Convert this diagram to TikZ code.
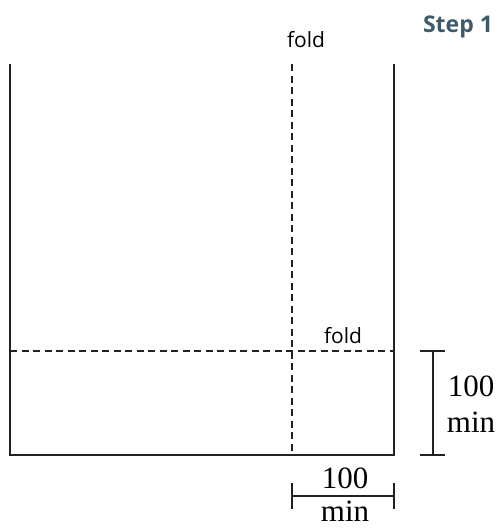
\documentclass[tikz,border=0pt]{standalone}
\usepackage{fontspec}
\setmainfont{Liberation Serif}
\newfontfamily\labelfont{Open Sans}
\definecolor{stepcol}{HTML}{3F5B6B}
\definecolor{linecol}{HTML}{222222}
\tikzset{
  solidline/.style={draw=linecol, line width=1.3pt},
  foldline/.style={draw=linecol, line width=1.2pt, dash pattern=on 7pt off 4.5pt},
  foldlabel/.style={font=\labelfont\fontsize{21}{24}\selectfont, text=black, inner sep=0pt, anchor=base},
  dimlabel/.style={font=\fontsize{31}{34}\selectfont, text=black, inner sep=0pt, anchor=base},
  steplabel/.style={font=\labelfont\bfseries\fontsize{23}{26}\selectfont, text=stepcol, inner sep=0pt, anchor=base}
}
\begin{document}
\begin{tikzpicture}[x=1pt,y=-1pt]
\useasboundingbox (0,0) rectangle (499,530);
% sheet outline
\coordinate (tl) at (10,64);
\coordinate (bl) at (10,455);
\coordinate (br) at (394,455);
\coordinate (tr) at (394,64);
\draw[solidline] (tl) -- (bl) -- (br) -- (tr);
% fold lines
\coordinate (vt) at (292,64);
\coordinate (vb) at (292,455);
\coordinate (hl) at (10,351);
\coordinate (hr) at (394,351);
\draw[foldline] (vt) -- (vb);
\draw[foldline] (hl) -- (hr);
% labels
\node[foldlabel] (fold1) at (306,47) {fold};
\node[foldlabel] (fold2) at (343,343) {fold};
\node[steplabel] (step) at (458,32) {Step 1};
% right dimension
\coordinate (rdt) at (433,351);
\coordinate (rdb) at (433,455);
\draw[solidline] (rdt) -- (rdb);
\draw[solidline] ([xshift=-13pt]rdt) -- ([xshift=12pt]rdt);
\draw[solidline] ([xshift=-13pt]rdb) -- ([xshift=12pt]rdb);
\node[dimlabel] (rnum) at (471,396) {100};
\node[dimlabel] (rmin) at (471,432) {min};
% bottom dimension
\coordinate (bdl) at (292,496);
\coordinate (bdr) at (394,496);
\draw[solidline] (bdl) -- (bdr);
\draw[solidline] ([yshift=-13pt]bdl) -- ([yshift=13pt]bdl);
\draw[solidline] ([yshift=-13pt]bdr) -- ([yshift=13pt]bdr);
\node[dimlabel] (bnum) at (345,488) {100};
\node[dimlabel] (bmin) at (345,521) {min};
\end{tikzpicture}
\end{document}
